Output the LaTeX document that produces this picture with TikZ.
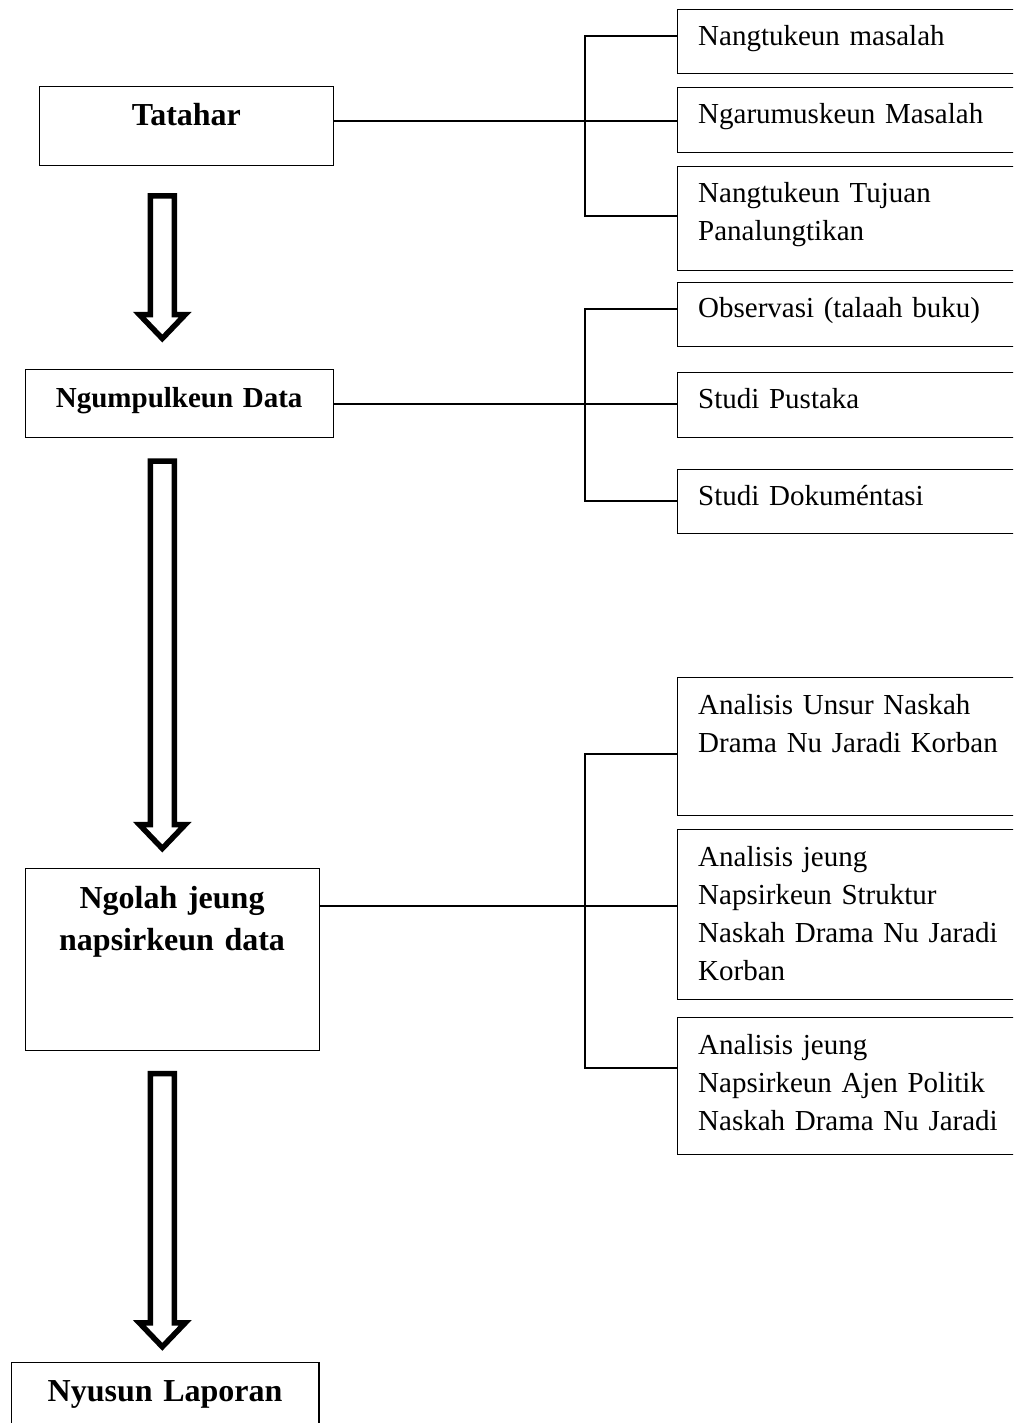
\documentclass[tikz,border=0pt]{standalone}
\usepackage{fontspec}
\setmainfont{Liberation Serif}
\tikzset{
 rbox/.style={draw=black, line width=1.2pt, anchor=north west, minimum width=400pt, inner sep=0pt},
 rtext/.style={anchor=base west, inner sep=0pt, text width=315pt, align=left, font=\fontsize{29}{38}\selectfont},
 lbox/.style={draw=black, line width=1.2pt, anchor=north west, inner sep=0pt},
 ltext/.style={anchor=base, inner sep=0pt, align=center, font=\bfseries\fontsize{32}{42}\selectfont},
 conn/.style={line width=2pt},
 barrow/.style={draw=black, line width=5.5pt, line join=miter, miter limit=20, fill=white}
}
\newcommand{\blockarr}[4]{%
 \draw[barrow] (#1-12,#2) -- (#1+12,#2) -- (#1+12,#3) -- (#1+23,#3) -- (#1,#4) -- (#1-23,#3) -- (#1-12,#3) -- cycle;}
\begin{document}
\begin{tikzpicture}[x=1pt,y=-1pt]
\useasboundingbox (0,0) rectangle (1013,1423);
\clip (0,0) rectangle (1013,1423);
% left boxes
\node[lbox, minimum width=293.9pt, minimum height=79pt] (tatahar) at (38.8,86) {};
\node[ltext, text width=293.9pt] (tatahart) at ([shift={(0,39.6)}]tatahar.north) {Tatahar};
\node[lbox, minimum width=308.2pt, minimum height=68pt] (ngumpul) at (24.5,369) {};
\node[ltext, text width=308.2pt, font=\bfseries\fontsize{29}{38}\selectfont] (ngumpult) at ([shift={(0,38)}]ngumpul.north) {Ngumpulkeun Data};
\node[lbox, minimum width=294pt, minimum height=181.7pt] (ngolah) at (24.5,868) {};
\node[ltext, text width=294pt] (ngolaht) at ([shift={(0,40)}]ngolah.north) {Ngolah jeung\\napsirkeun data};
\node[lbox, minimum width=307.6pt, minimum height=100pt] (nyusun) at (10.7,1361.7) {};
\node[ltext, text width=307.6pt] (nyusunt) at ([shift={(0,40)}]nyusun.north) {Nyusun Laporan};
% right boxes
\node[rbox, minimum height=64pt] (b1) at (677,9) {};
\node[rbox, minimum height=64.6pt] (b2) at (677,87) {};
\node[rbox, minimum height=104.4pt] (b3) at (677,165.6) {};
\node[rbox, minimum height=64.3pt] (b4) at (677,281.7) {};
\node[rbox, minimum height=64.5pt] (b5) at (677,372) {};
\node[rbox, minimum height=64pt] (b6) at (677,469) {};
\node[rbox, minimum height=138pt] (b7) at (677,676.5) {};
\node[rbox, minimum height=170pt] (b8) at (677,829) {};
\node[rbox, minimum height=137.5pt] (b9) at (677,1016.5) {};
\node[rtext] (t1) at ([shift={(21,36.5)}]b1.north west) {Nangtukeun masalah};
\node[rtext] (t2) at ([shift={(21,36.5)}]b2.north west) {Ngarumuskeun Masalah};
\node[rtext] (t3) at ([shift={(21,37.4)}]b3.north west) {Nangtukeun Tujuan\\Panalungtikan};
\node[rtext] (t4) at ([shift={(21,36)}]b4.north west) {Observasi (talaah buku)};
\node[rtext] (t5) at ([shift={(21,36.8)}]b5.north west) {Studi Pustaka};
\node[rtext] (t6) at ([shift={(21,36)}]b6.north west) {Studi Dokuméntasi};
\node[rtext] (t7) at ([shift={(21,38)}]b7.north west) {Analisis Unsur Naskah\\Drama Nu Jaradi Korban};
\node[rtext] (t8) at ([shift={(21,37.6)}]b8.north west) {Analisis jeung\\Napsirkeun Struktur\\Naskah Drama Nu Jaradi\\Korban};
\node[rtext] (t9) at ([shift={(21,37.6)}]b9.north west) {Analisis jeung\\Napsirkeun Ajen Politik\\Naskah Drama Nu Jaradi};
% connectors
\coordinate (j1) at (584.6,121);
\coordinate (k1t) at (584.6,36);
\coordinate (k1b) at (584.6,216.5);
\draw[conn] (tatahar.east |- j1) -- (j1 -| b2.west);
\draw[conn] (k1t -| b1.west) -- (k1t) -- (k1b) -- (k1b -| b3.west);
\coordinate (j2) at (584.6,403.5);
\coordinate (k2t) at (584.6,309);
\coordinate (k2b) at (584.6,501);
\draw[conn] (ngumpul.east |- j2) -- (j2 -| b5.west);
\draw[conn] (k2t -| b4.west) -- (k2t) -- (k2b) -- (k2b -| b6.west);
\coordinate (j3) at (584.6,906.4);
\coordinate (k3t) at (584.6,753.8);
\coordinate (k3b) at (584.6,1068);
\draw[conn] (ngolah.east |- j3) -- (j3 -| b8.west);
\draw[conn] (k3t -| b7.west) -- (k3t) -- (k3b) -- (k3b -| b9.west);
% block arrows
\blockarr{162.3}{196}{314.5}{338.5}
\blockarr{162.3}{461}{824.5}{848.5}
\blockarr{162.3}{1073.5}{1322.8}{1346.8}
\end{tikzpicture}
\end{document}
